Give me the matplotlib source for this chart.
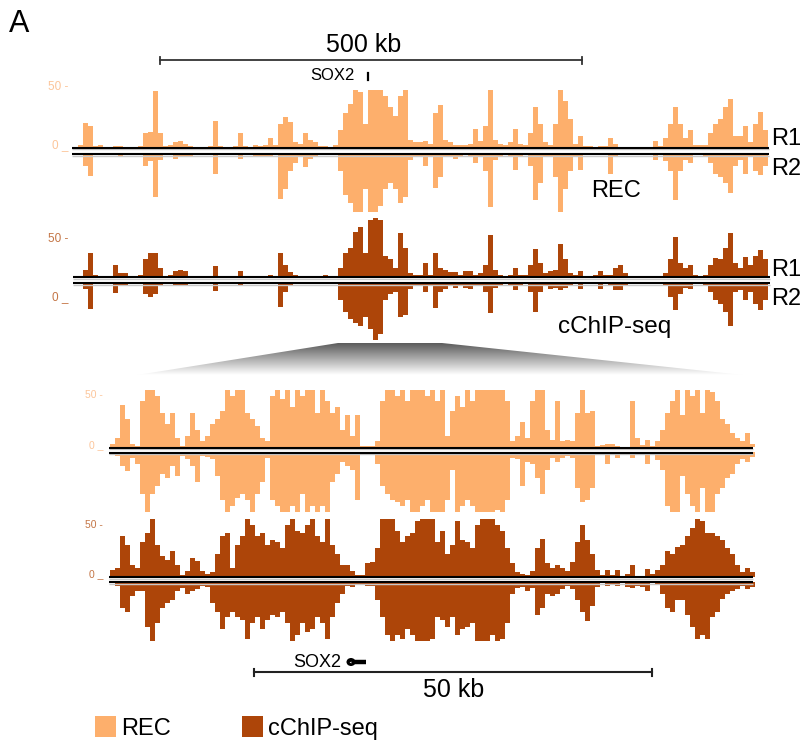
import numpy as np
import matplotlib
matplotlib.use("Agg")
import matplotlib.pyplot as plt
from matplotlib.patches import Polygon, Rectangle, Ellipse
from matplotlib.colors import LinearSegmentedColormap

plt.rcParams["font.family"] = ["Liberation Sans", "DejaVu Sans"]

W, H = 804, 742
REC_COLOR = "#fdaf6c"
CHIP_COLOR = "#ad4509"

# signal per 5 px bin, clipped at 50 (top panel: 139 bins, zoom panel: 129 bins)
rec_top_r1 = [
    0, 2, 21, 18, 1, 2, 0, 0, 1, 1,
    0, 0, 0, 1, 12, 13, 49, 12, 1, 2,
    4, 5, 3, 1, 0, 0, 0, 1, 23, 1,
    0, 0, 1, 12, 1, 0, 2, 1, 2, 8,
    2, 20, 26, 22, 4, 3, 12, 6, 4, 1,
    1, 0, 2, 15, 30, 38, 50, 48, 20, 50,
    50, 50, 45, 35, 27, 45, 50, 6, 4, 4,
    5, 3, 30, 37, 6, 4, 2, 2, 2, 3,
    16, 5, 18, 50, 6, 3, 2, 4, 16, 3,
    2, 12, 35, 20, 4, 2, 20, 50, 40, 25,
    3, 10, 1, 1, 0, 1, 1, 8, 3, 0,
    0, 0, 0, 0, 0, 0, 5, 1, 8, 20,
    35, 20, 8, 15, 2, 2, 2, 12, 20, 25,
    35, 42, 10, 10, 18, 4, 20, 31, 15]
rec_top_r2 = [
    0, 1, 10, 19, 1, 0, 0, 0, 1, 3,
    0, 0, 0, 1, 10, 6, 37, 5, 1, 1,
    4, 3, 3, 2, 0, 0, 0, 1, 17, 1,
    0, 0, 1, 4, 0, 1, 2, 3, 2, 3,
    1, 39, 30, 15, 8, 2, 11, 4, 2, 1,
    0, 0, 1, 15, 35, 42, 50, 50, 30, 50,
    50, 45, 30, 25, 30, 42, 37, 5, 2, 2,
    10, 2, 29, 20, 3, 2, 4, 2, 1, 2,
    8, 2, 15, 46, 5, 2, 1, 2, 14, 2,
    1, 10, 40, 25, 3, 2, 20, 50, 30, 15,
    2, 14, 1, 0, 0, 0, 1, 17, 2, 0,
    0, 0, 0, 0, 0, 0, 5, 1, 6, 15,
    40, 15, 5, 8, 1, 1, 2, 8, 17, 20,
    25, 34, 10, 5, 17, 3, 15, 18, 10]
chip_top_r1 = [
    0, 1, 6, 20, 2, 0, 0, 1, 10, 3,
    3, 1, 0, 2, 15, 20, 20, 8, 1, 2,
    5, 6, 5, 1, 0, 0, 0, 1, 9, 1,
    0, 0, 1, 5, 0, 0, 1, 1, 1, 2,
    1, 20, 10, 4, 2, 1, 1, 0, 0, 0,
    2, 0, 1, 8, 20, 25, 38, 42, 20, 48,
    50, 48, 18, 15, 8, 37, 25, 3, 2, 2,
    12, 2, 20, 8, 6, 4, 4, 2, 5, 5,
    2, 3, 10, 36, 6, 2, 1, 2, 8, 2,
    2, 10, 24, 12, 3, 5, 6, 28, 15, 3,
    2, 5, 1, 1, 2, 5, 2, 2, 8, 10,
    3, 1, 0, 0, 0, 0, 0, 1, 3, 15,
    34, 12, 8, 10, 2, 1, 2, 10, 16, 15,
    25, 37, 12, 8, 17, 10, 18, 23, 15]
chip_top_r2 = [
    0, 1, 5, 23, 1, 0, 0, 1, 9, 2,
    3, 1, 0, 1, 10, 12, 10, 3, 1, 1,
    3, 3, 2, 1, 0, 0, 0, 1, 7, 1,
    0, 0, 1, 3, 0, 0, 1, 1, 1, 1,
    1, 21, 8, 3, 1, 1, 1, 0, 0, 0,
    1, 0, 1, 15, 25, 32, 35, 38, 30, 40,
    50, 45, 15, 10, 8, 30, 28, 5, 2, 2,
    8, 2, 22, 8, 5, 3, 4, 2, 4, 5,
    2, 2, 8, 26, 4, 2, 1, 2, 6, 2,
    1, 8, 25, 8, 2, 5, 4, 6, 4, 2,
    1, 5, 1, 1, 1, 5, 1, 2, 6, 6,
    2, 1, 0, 0, 0, 0, 0, 1, 2, 12,
    24, 10, 4, 5, 1, 1, 2, 8, 15, 18,
    25, 38, 8, 6, 15, 8, 18, 24, 15]

rec_zoom_r1 = [
    3, 8, 37, 25, 3, 1, 40, 50, 50, 45,
    30, 20, 30, 8, 1, 10, 30, 15, 5, 10,
    20, 25, 32, 50, 45, 50, 50, 30, 25, 18,
    8, 5, 45, 50, 42, 50, 35, 50, 45, 50,
    50, 30, 50, 40, 30, 35, 15, 28, 10, 28,
    1, 1, 1, 5, 40, 50, 50, 45, 50, 40,
    50, 50, 50, 45, 50, 40, 50, 10, 32, 45,
    35, 50, 40, 50, 50, 50, 50, 50, 50, 40,
    5, 10, 22, 8, 40, 50, 50, 15, 6, 40,
    5, 6, 5, 30, 50, 30, 32, 1, 2, 3,
    3, 1, 0, 0, 40, 8, 2, 6, 1, 5,
    15, 30, 40, 50, 28, 50, 45, 50, 30, 50,
    48, 40, 25, 20, 12, 8, 5, 12, 3]
rec_zoom_r2 = [
    2, 3, 12, 16, 5, 10, 35, 50, 35, 28,
    18, 22, 12, 20, 3, 6, 12, 25, 3, 4,
    6, 20, 40, 50, 45, 38, 35, 40, 50, 35,
    25, 5, 40, 45, 50, 50, 45, 50, 35, 50,
    45, 50, 45, 50, 25, 18, 8, 12, 15, 40,
    0, 0, 0, 10, 28, 35, 40, 42, 45, 40,
    50, 50, 45, 40, 50, 50, 50, 40, 15, 50,
    45, 40, 45, 50, 50, 50, 50, 48, 50, 40,
    5, 6, 28, 8, 10, 22, 35, 15, 5, 8,
    5, 3, 5, 30, 42, 40, 30, 1, 2, 10,
    1, 5, 0, 0, 5, 1, 1, 10, 1, 7,
    15, 45, 50, 50, 20, 35, 45, 50, 30, 50,
    50, 35, 30, 22, 18, 10, 6, 8, 4]
chip_zoom_r1 = [
    6, 8, 35, 28, 10, 8, 30, 38, 50, 28,
    18, 15, 22, 10, 2, 5, 16, 14, 5, 3,
    4, 20, 35, 38, 8, 28, 35, 50, 45, 35,
    38, 28, 32, 30, 25, 45, 50, 40, 38, 45,
    50, 35, 30, 50, 28, 20, 10, 10, 5, 2,
    2, 12, 13, 25, 50, 50, 50, 40, 30, 35,
    38, 48, 50, 50, 50, 30, 40, 20, 28, 48,
    32, 30, 25, 45, 50, 50, 50, 45, 40, 25,
    12, 4, 3, 2, 5, 25, 33, 12, 8, 10,
    8, 5, 13, 30, 45, 32, 20, 6, 2, 6,
    2, 6, 1, 3, 10, 1, 1, 7, 3, 6,
    10, 22, 20, 26, 28, 35, 42, 50, 48, 38,
    38, 35, 32, 25, 20, 10, 4, 8, 4]
chip_zoom_r2 = [
    1, 3, 22, 25, 12, 8, 8, 38, 50, 35,
    22, 18, 15, 8, 5, 10, 8, 6, 3, 4,
    18, 25, 40, 30, 25, 30, 32, 48, 35, 30,
    40, 32, 28, 30, 25, 35, 50, 45, 35, 42,
    40, 30, 35, 48, 30, 18, 10, 3, 4, 2,
    2, 3, 3, 15, 30, 45, 50, 45, 48, 40,
    45, 50, 50, 50, 48, 30, 32, 38, 30, 45,
    40, 38, 35, 50, 50, 50, 45, 50, 48, 35,
    10, 5, 4, 8, 5, 28, 22, 10, 12, 10,
    6, 3, 6, 15, 25, 33, 20, 4, 1, 3,
    2, 3, 1, 4, 5, 3, 4, 8, 1, 2,
    10, 22, 25, 15, 15, 28, 38, 48, 45, 48,
    30, 25, 14, 10, 8, 6, 3, 6, 4]

axis_ticks = ["50 -", "0 _"]
track_names = ["R1", "R2"]
legend_labels = ["REC", "cChIP-seq"]


def px_axes(fig, x0, x1, y0, y1):
    ax = fig.add_axes([x0 / W, 1 - y1 / H, (x1 - x0) / W, (y1 - y0) / H])
    ax.set_axis_off()
    return ax


def track(fig, vals, x0, x1, y_base, y_far, color):
    # y_far above the baseline -> signal goes up, otherwise it hangs down
    up = y_far < y_base
    ax = px_axes(fig, x0, x1, min(y_base, y_far), max(y_base, y_far))
    ax.stairs(vals, np.arange(len(vals) + 1), fill=True, color=color,
              linewidth=0)
    ax.set_xlim(0, len(vals))
    ax.set_ylim((0, 50) if up else (50, 0))
    return ax


fig = plt.figure(figsize=(W / 100, H / 100), dpi=100)

# top panel (whole locus)
track(fig, rec_top_r1, 73, 768, 147, 90, REC_COLOR)
track(fig, rec_top_r2, 73, 768, 154, 212, REC_COLOR)
track(fig, chip_top_r1, 73, 768, 277, 218, CHIP_COLOR)
track(fig, chip_top_r2, 73, 768, 283, 340, CHIP_COLOR)

# zoomed panel
track(fig, rec_zoom_r1, 110, 755, 447, 390, REC_COLOR)
track(fig, rec_zoom_r2, 110, 755, 452, 512, REC_COLOR)
track(fig, chip_zoom_r1, 110, 755, 577, 519, CHIP_COLOR)
track(fig, chip_zoom_r2, 110, 755, 582, 641, CHIP_COLOR)

ov = fig.add_axes([0, 0, 1, 1], zorder=10)
ov.patch.set_alpha(0)
ov.set_axis_off()

# zoom wedge with a grey fade
grey = LinearSegmentedColormap.from_list("fade", ["#ffffff", "#5c5c5c"])
grad = np.linspace(1, 0, 64).reshape(-1, 1)
im = ov.imshow(grad, cmap=grey, vmin=0, vmax=1, aspect="auto",
               extent=(137, 743, 375, 343), zorder=1)
wedge = Polygon([(338, 343), (442, 343), (743, 375), (137, 375)],
                closed=True, facecolor="none", edgecolor="none")
ov.add_patch(wedge)
im.set_clip_path(wedge)

ov.set_xlim(0, W)
ov.set_ylim(H, 0)

# baselines
for (xa, xb), ys in [((72, 769), (147.5, 154)), ((73, 770), (277, 283)),
                     ((109, 753), (447.5, 452.5)), ((109, 753), (577, 582))]:
    for y in ys:
        ov.plot([xa, xb], [y + 1.6, y + 1.6], color="#c8c8c8", lw=1.0,
                solid_capstyle="butt")
        ov.plot([xa, xb], [y, y], color="black", lw=1.5, solid_capstyle="butt")

# y labels
for (x, ys, col, fs) in [(68, (90, 148), "#fcc59a", 8.5),
                         (68, (242, 300), "#c47545", 8.5),
                         (103, (398, 448), "#fcc59a", 7.5),
                         (103, (528, 577), "#c47545", 7.5)]:
    for lab, y in zip(axis_ticks, ys):
        ov.text(x, y, lab, ha="right", va="baseline", fontsize=fs, color=col)

# replicate names
for ys in [(145, 175), (276, 305)]:
    for name, y in zip(track_names, ys):
        ov.text(771, y, name, ha="left", va="baseline", fontsize=17)
ov.text(591, 197, "REC", ha="left", va="baseline", fontsize=17)
ov.text(558, 333, "cChIP-seq", ha="left", va="baseline", fontsize=17.5)

ov.text(9, 32, "A", ha="left", va="baseline", fontsize=22)

# scale bars
ov.plot([160, 582], [60, 60], color="#333333", lw=1.3)
for x in (160, 582):
    ov.plot([x, x], [57, 64], color="#333333", lw=1.3)
ov.text(364, 52, "500 kb", ha="center", va="baseline", fontsize=18)

ov.plot([254, 652], [672, 672], color="#222222", lw=1.5)
for x in (254, 652):
    ov.plot([x, x], [668.5, 676], color="#222222", lw=1.5)
ov.text(423, 697, "50 kb", ha="left", va="baseline", fontsize=18)

# SOX2 gene marks
ov.text(310, 80, "SOX2", ha="left", va="baseline", fontsize=12)
ov.plot([368, 368], [73, 80], color="black", lw=1.6)
ov.text(293, 667, "SOX2", ha="left", va="baseline", fontsize=13)
ov.plot([351, 366], [662, 662], color="black", lw=3.2, solid_capstyle="butt")
ov.add_patch(Ellipse((351, 662), 9, 8, facecolor="black", edgecolor="none"))
ov.plot([350.5], [662], marker="<", markersize=1.3, color="white", mew=0)

# legend
for x, col, lab in [(95, REC_COLOR, legend_labels[0]),
                    (242, CHIP_COLOR, legend_labels[1])]:
    ov.add_patch(Rectangle((x, 716), 21, 21, facecolor=col, edgecolor="none"))
    ov.text(x + 26, 735, lab, ha="left", va="baseline", fontsize=17)

fig.savefig("out.png", dpi=100)
